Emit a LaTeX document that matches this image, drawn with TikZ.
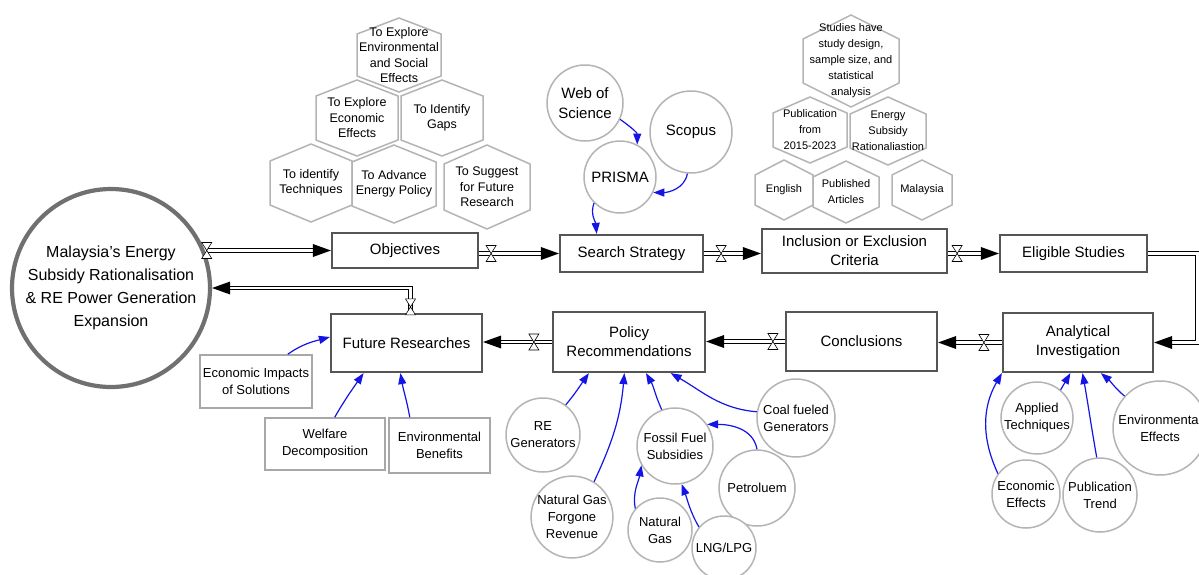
\documentclass[tikz,border=0pt]{standalone}
\usepackage{fontspec}
\setmainfont{Liberation Sans}
\usetikzlibrary{arrows.meta,decorations.markings,calc}
\definecolor{boxgray}{HTML}{555555}
\definecolor{circgray}{HTML}{B4B4B4}
\definecolor{biggray}{HTML}{707070}
\definecolor{inboxgray}{HTML}{A8A8A8}
\definecolor{arrblue}{HTML}{1414E6}
\tikzset{
  box/.style={draw=boxgray, line width=2.2pt, fill=white, align=center, inner sep=0pt,
    font=\fontsize{15}{19}\selectfont},
  inbox/.style={draw=inboxgray, line width=1.6pt, fill=white, align=center, inner sep=0pt,
    font=\fontsize{13}{17}\selectfont},
  circ/.style={circle, draw=circgray, line width=1.5pt, fill=white, align=center, inner sep=0pt},
  bigcirc/.style={circle, draw=biggray, line width=4.2pt, fill=white, align=center, inner sep=0pt,
    font=\fontsize{16}{23}\selectfont},
  hexline/.style={draw=circgray, line width=1.5pt, fill=white},
  hextext/.style={align=center, inner sep=0pt},
  barr/.style={draw=arrblue, line width=1.2pt, -{Triangle[length=11pt,width=8pt]}},
  pipe/.style={draw=black, double=white, double distance=2.8pt, line width=0.8pt,
    shorten >=17pt,
    postaction={decorate, decoration={markings,
      mark=at position 1 with {\fill[black, shorten >=0pt, shorten <=0pt]
        (0,0) -- (-18pt,6.5pt) -- (-18pt,-6.5pt) -- cycle;}}}},
  valve/.style={postaction={decorate, decoration={markings,
      mark=at position #1 with {\pgftransformresetnontranslations
        \filldraw[fill=white, draw=black, line width=0.6pt, shorten >=0pt, shorten <=0pt]
        (0,0) -- (-5pt,8pt) -- (5pt,8pt) -- cycle
        (0,0) -- (-5pt,-8pt) -- (5pt,-8pt) -- cycle;}}}},
}
% name, x, y, half width, half height, half side, font, text
\newcommand\myhex[8]{%
  \draw[hexline] (#2,#3+#5) -- (#2+#4,#3+#6) -- (#2+#4,#3-#6) -- (#2,#3-#5)
    -- (#2-#4,#3-#6) -- (#2-#4,#3+#6) -- cycle;
  \node[hextext, font=#7] (#1) at (#2,#3) {#8};
}
\begin{document}
\begin{tikzpicture}[x=1pt,y=1pt]
\useasboundingbox (0,0) rectangle (1199,-574);
\fill[white] (0,0) rectangle (1199,-574);

% ---- hexagons: objectives
\def\lf{\fontsize{12.5}{15.5}\selectfont}
\myhex{hA}{399}{-55}{42}{37}{21}{\lf}{To Explore\\Environmental\\and Social\\Effects}
\myhex{hB}{357}{-118}{41}{38}{22}{\lf}{To Explore\\Economic\\Effects}
\myhex{hC}{442}{-118}{41}{38}{22}{\lf}{To Identify\\Gaps}
\myhex{hD}{311}{-183}{41}{39}{22}{\lf}{To identify\\Techniques}
\myhex{hE}{394}{-184}{42}{39}{22}{\lf}{To Advance\\Energy Policy}
\myhex{hF}{487}{-187}{43}{42}{23}{\lf}{To Suggest\\for Future\\Research}

% ---- hexagons: criteria
\def\rf{\fontsize{11}{16}\selectfont}
\myhex{kA}{851}{-61}{48}{46}{22}{\rf}{Studies have\\study design,\\sample size, and\\statistical\\analysis}
\myhex{kB}{810}{-130}{37}{33}{17}{\rf}{Publication\\from\\2015-2023}
\myhex{kC}{888}{-131}{38}{34}{17}{\rf}{Energy\\Subsidy\\Rationaliastion}
\myhex{kD}{784}{-190}{29}{30}{15}{\rf}{English}
\myhex{kE}{846}{-192}{33}{31}{15}{\rf}{Published\\Articles}
\myhex{kF}{922}{-190}{30}{30}{15}{\rf}{Malaysia}

% ---- main circle and boxes
\node[bigcirc, minimum size=198pt] (bigc) at (111,-288)
  {Malaysia's Energy\\Subsidy Rationalisation\\\& RE Power Generation\\Expansion};
\node[box, minimum width=146pt, minimum height=35pt] (obj) at (405,-250.5) {Objectives};
\node[box, minimum width=143pt, minimum height=37pt] (ss) at (631.5,-253.5) {Search Strategy};
\node[box, minimum width=185pt, minimum height=44pt] (iec) at (854.5,-251) {Inclusion or Exclusion\\Criteria};
\node[box, minimum width=147pt, minimum height=37pt] (elig) at (1073.5,-253.5) {Eligible Studies};
\node[box, minimum width=150pt, minimum height=59pt] (ai) at (1078,-342.5) {Analytical\\Investigation};
\node[box, minimum width=151pt, minimum height=59pt] (conc) at (861.5,-341.5) {Conclusions};
\node[box, minimum width=152pt, minimum height=60pt] (pr) at (629,-342) {Policy\\Recommendations};
\node[box, minimum width=151pt, minimum height=58pt] (fut) at (406.5,-343) {Future Researches};

% ---- input boxes
\node[inbox, minimum width=112pt, minimum height=53pt] (eis) at (256,-381.5) {Economic Impacts\\of Solutions};
\node[inbox, minimum width=120pt, minimum height=52pt] (wd) at (325,-444) {Welfare\\Decomposition};
\node[inbox, minimum width=101pt, minimum height=55pt] (eb) at (439.5,-445.5) {Environmental\\Benefits};

% ---- circles
\def\cf{\fontsize{15}{20}\selectfont}
\def\sf{\fontsize{13}{17}\selectfont}
\node[circ, minimum size=76pt, font=\cf] (web) at (585,-103) {Web of\\Science};
\node[circ, minimum size=82pt, font=\cf] (scop) at (691,-132) {Scopus};
\node[circ, minimum size=72pt, font=\cf] (prisma) at (620,-177) {PRISMA};

\node[circ, minimum size=74pt, font=\sf] (re) at (543,-435) {RE\\Generators};
\node[circ, minimum size=80pt, font=\sf] (ngf) at (572,-517) {Natural Gas\\Forgone\\Revenue};
\node[circ, minimum size=76pt, font=\sf] (ffs) at (675,-446) {Fossil Fuel\\Subsidies};
\node[circ, minimum size=78pt, font=\sf] (coal) at (796,-418) {Coal fueled\\Generators};
\node[circ, minimum size=76pt, font=\sf] (pet) at (757,-488) {Petroluem};
\node[circ, minimum size=64pt, font=\sf] (ng) at (660,-530) {Natural\\Gas};
\node[circ, minimum size=64pt, font=\sf] (lng) at (724,-548) {LNG/LPG};

\node[circ, minimum size=72pt, font=\sf] (at) at (1037,-418) {Applied\\Techniques};
\node[circ, minimum size=94pt, font=\sf] (env) at (1160,-428) {Environmental\\Effects};
\node[circ, minimum size=68pt, font=\sf] (ee) at (1026,-494) {Economic\\Effects};
\node[circ, minimum size=74pt, font=\sf] (pt) at (1100,-495) {Publication\\Trend};

% ---- pipes
\draw[pipe, valve=2pt] (obj.west -| bigc.22) -- (obj.west);
\draw[pipe, valve=12pt] (ss.west -| obj.east) -- (ss.west);
\draw[pipe, valve=17pt] (ss.east) -- (ss.east -| iec.west);
\draw[pipe, valve=9pt] (elig.west -| iec.east) -- (elig.west);
\draw[pipe] (elig.east) -- ++(49,0) |- (ai.east);
\draw[pipe, valve=18pt] (ai.west) -- (ai.west -| conc.east);
\draw[pipe, valve=12pt] (conc.west) -- (conc.west -| pr.east);
\draw[pipe, valve=18pt] (pr.west) -- (pr.west -| fut.east);
\draw[pipe, valve=6pt] ($(fut.north)+(4,0)$) |- (bigc.east);

% ---- blue influence arrows
\draw[barr] (web.-25) to[out=-35, in=90] (prisma.62);
\draw[barr] (scop.-95) to[out=-100, in=0] (prisma.-25);
\draw[barr] (prisma.-135) to[out=-110, in=95] ($(ss.north west)!0.26!(ss.north east)$);

\draw[barr] ($(eis.north west)!0.78!(eis.north east)$) to[out=35, in=195] ($(fut.west)+(0,6)$);
\draw[barr] ($(wd.north west)!0.58!(wd.north east)$) to[out=60, in=-125] ($(fut.south west)!0.22!(fut.south east)$);
\draw[barr] ($(eb.north west)!0.21!(eb.north east)$) to[out=100, in=-80] ($(fut.south west)!0.46!(fut.south east)$);

\draw[barr] (re.53) to[out=50, in=-125] ($(pr.south west)!0.24!(pr.south east)$);
\draw[barr] (ngf.58) to[out=65, in=-95] ($(pr.south west)!0.47!(pr.south east)$);
\draw[barr] (ffs.110) to[out=115, in=-60] ($(pr.south west)!0.61!(pr.south east)$);
\draw[barr] (coal.171) to[out=175, in=-30] ($(pr.south west)!0.77!(pr.south east)$);
\draw[barr] (pet.90) to[out=100, in=0] (ffs.34);
\draw[barr] (ng.139) to[out=100, in=-100] (ffs.-150);
\draw[barr] (lng.140) to[out=120, in=-70] (ffs.-80);

\draw[barr] (ee.144) to[out=115, in=-120] (ai.south west);
\draw[barr] (at.50) to[out=60, in=-120] ($(ai.south west)!0.45!(ai.south east)$);
\draw[barr] (pt.95) to[out=100, in=-80] ($(ai.south west)!0.53!(ai.south east)$);
\draw[barr] (env.138) to[out=140, in=-40] ($(ai.south west)!0.65!(ai.south east)$);
\end{tikzpicture}
\end{document}
